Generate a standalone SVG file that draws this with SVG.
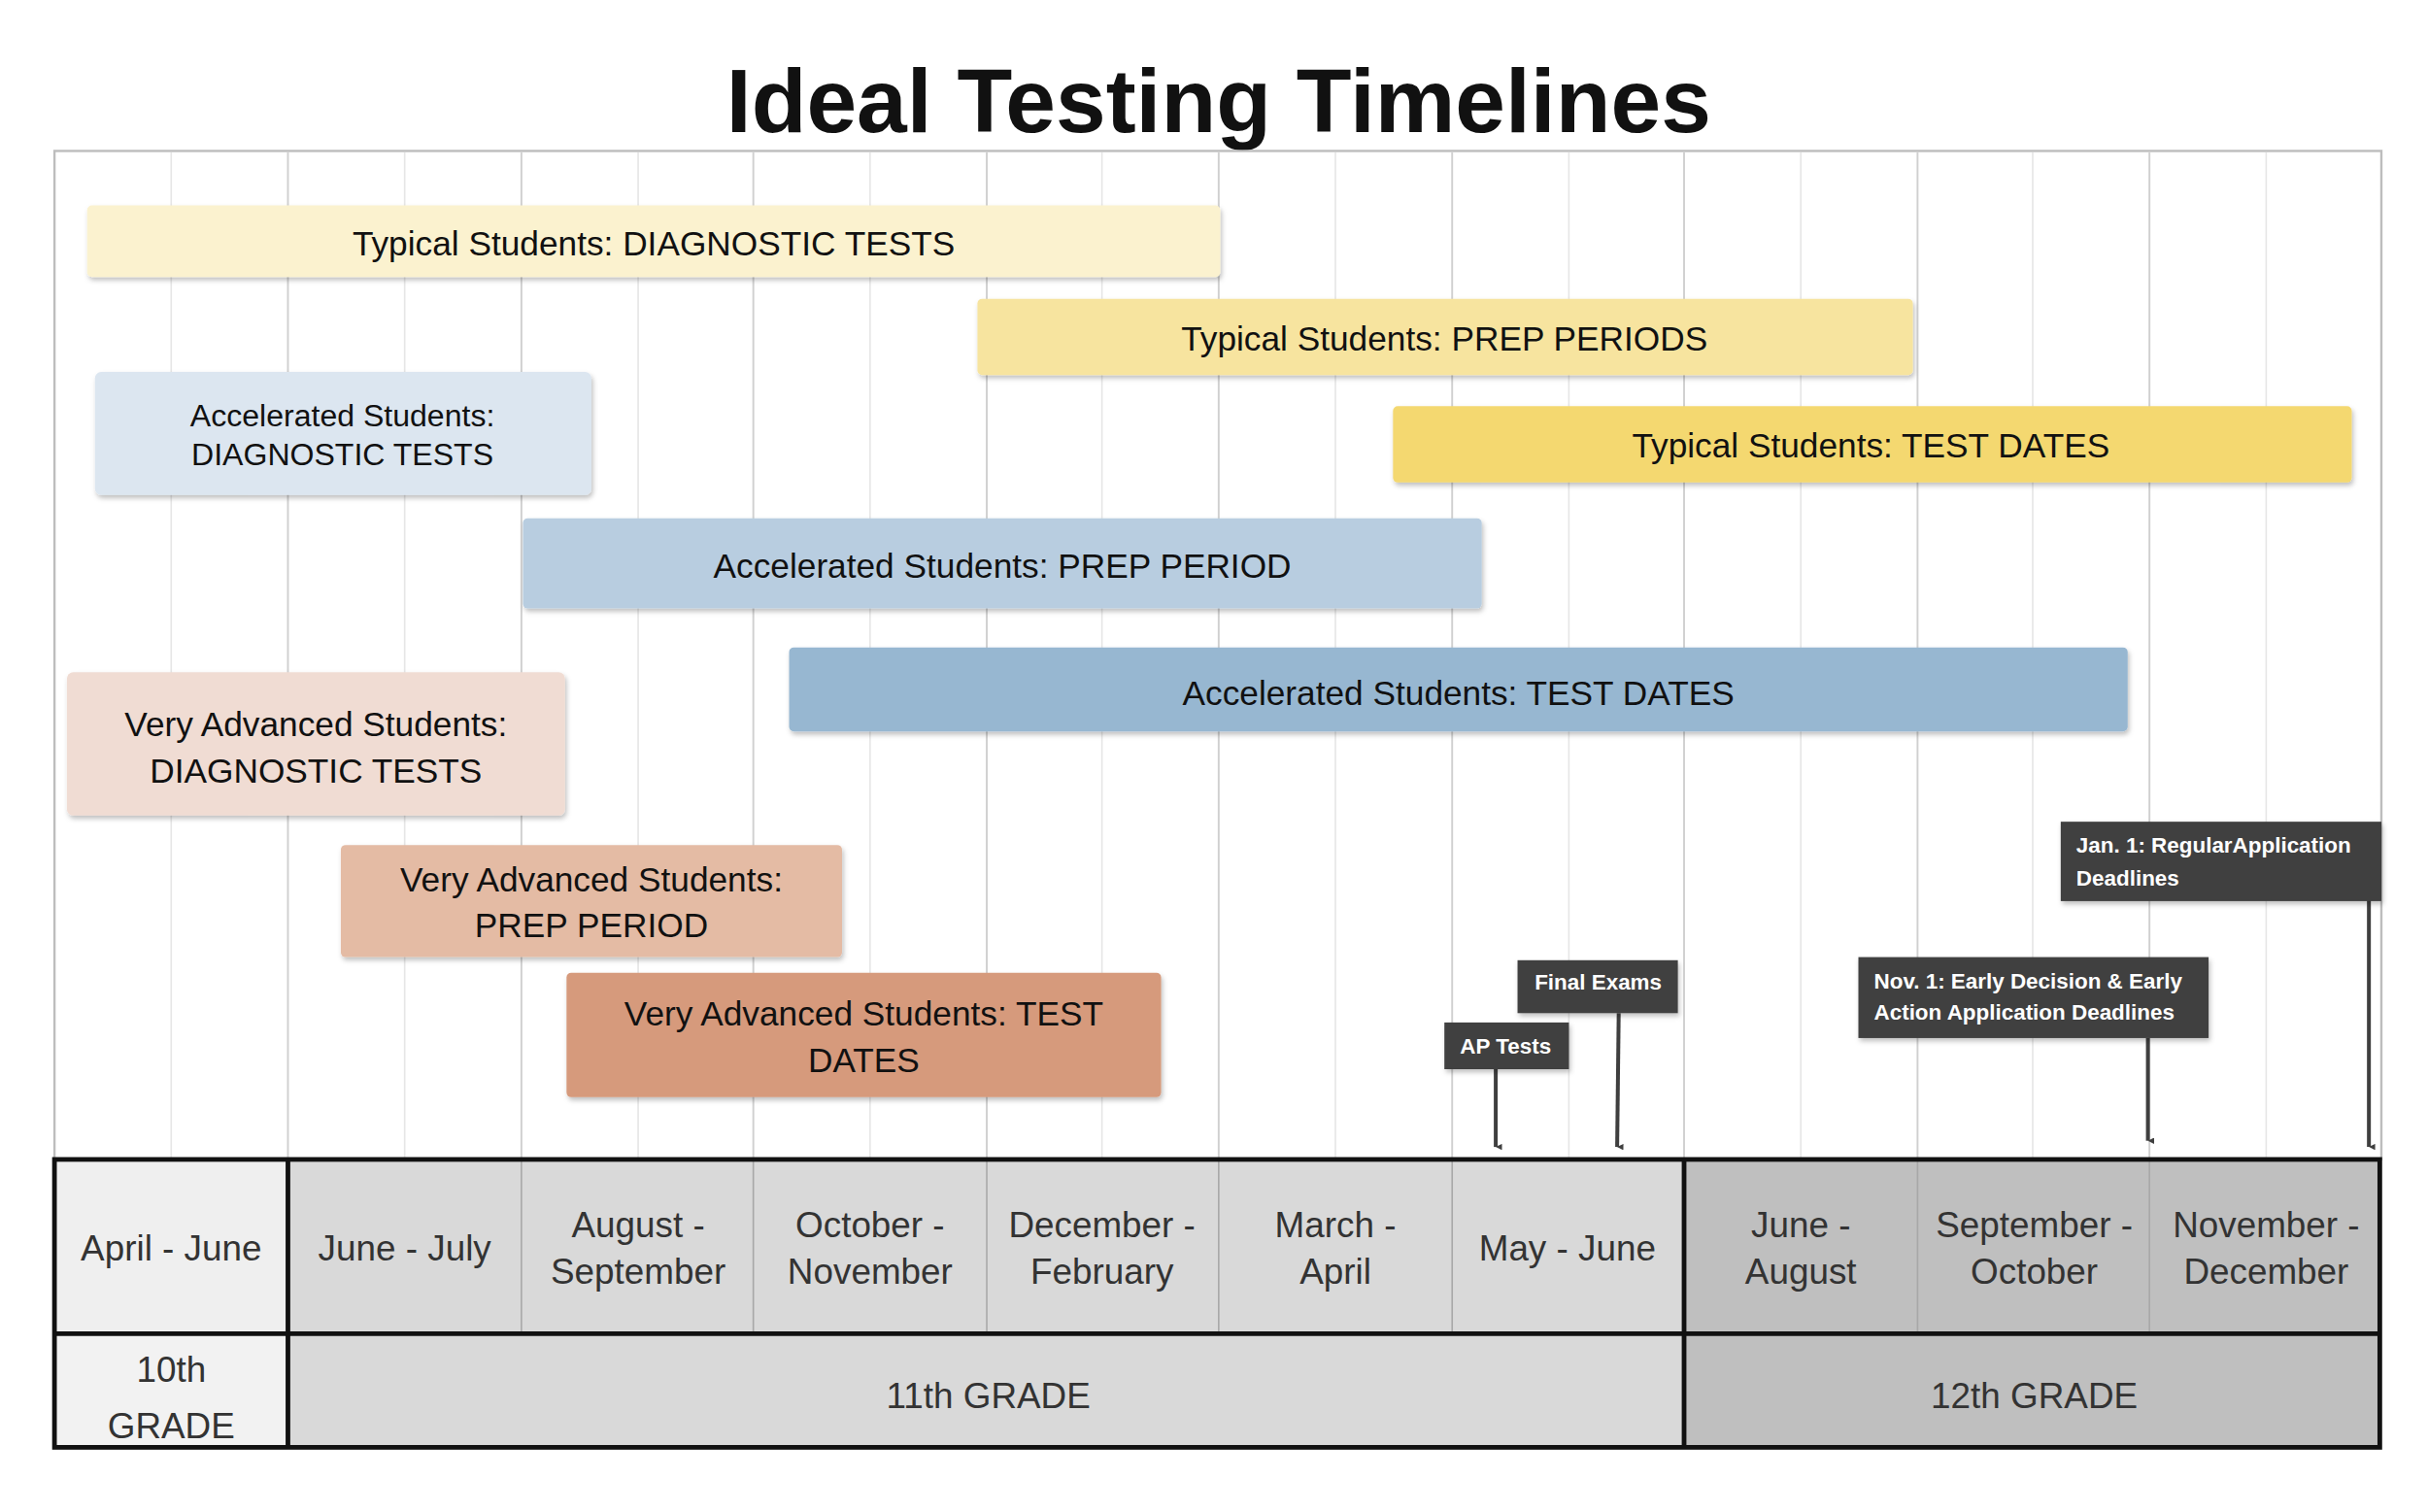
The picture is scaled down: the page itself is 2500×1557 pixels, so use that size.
<svg xmlns="http://www.w3.org/2000/svg" width="2500" height="1557" viewBox="0 0 2500 1557">
<style>
.t{font-family:"Liberation Sans Narrow","Liberation Sans",Arial,sans-serif;fill:#111;text-anchor:middle}
.bar{stroke:none;filter:url(#sh)}
.grid{stroke:#e6e6e6;stroke-width:1}
.gridm{stroke:#d0d0d0;stroke-width:1.2}
.mon{font-family:"Liberation Sans",Arial,sans-serif;font-size:23px;fill:#333;text-anchor:middle}
.call{fill:#3f3f3f}
.ct{font-family:"Liberation Sans Narrow","Liberation Sans",Arial,sans-serif;font-size:14px;fill:#fff;font-weight:bold}
.conn{stroke:#3f3f3f;stroke-width:2.5;marker-end:url(#ah)}
</style>
<defs>
<filter id="sh" x="-5%" y="-10%" width="110%" height="130%"><feDropShadow dx="1" dy="2" stdDeviation="1.5" flood-color="#000" flood-opacity="0.25"/></filter>
<marker id="ah" viewBox="0 0 10 10" refX="5" refY="10" markerWidth="4" markerHeight="5" orient="auto-start-reverse" markerUnits="userSpaceOnUse"><path d="M0,0 L10,0 L5,10 z" fill="#3f3f3f" transform="rotate(0)"/></marker>
</defs>
<rect width="2500" height="1557" fill="#fff"/>
<g transform="scale(1.6026)">
<text x="783" y="85" class="t" font-family="Liberation Sans,Arial,sans-serif" style="font-family:'Liberation Sans',Arial,sans-serif" font-size="58" font-weight="bold">Ideal Testing Timelines</text>
<g id="frame">
<rect x="35" y="97" width="1495" height="648" fill="#fff" stroke="#bdbdbd" stroke-width="1.5"/>
<path class="grid" d="M110,98V745M260,98V745M410,98V745M559,98V745M708,98V745M858,98V745M1008,98V745M1157,98V745M1306,98V745M1456,98V745"/>
<path class="gridm" d="M185,98V745M335,98V745M484,98V745M634,98V745M783,98V745M933,98V745M1082,98V745M1232,98V745M1381,98V745"/>
</g>
<g id="typ-diag"><rect class="bar" x="56" y="132" width="728" height="46" rx="3" fill="#FBF2CF"/><text class="t" x="420" y="164" font-size="22">Typical Students: DIAGNOSTIC TESTS</text></g>
<g id="typ-prep"><rect class="bar" x="628" y="192" width="601" height="49" rx="3" fill="#F7E49F"/><text class="t" x="928" y="225" font-size="22">Typical Students: PREP PERIODS</text></g>
<g id="acc-diag"><rect class="bar" x="61" y="239" width="319" height="79" rx="4" fill="#DCE6F0"/><text class="t" x="220" y="274" font-size="20">Accelerated Students:</text><text class="t" x="220" y="299" font-size="20">DIAGNOSTIC TESTS</text></g>
<g id="typ-test"><rect class="bar" x="895" y="261" width="616" height="49" rx="3" fill="#F4D870"/><text class="t" x="1202" y="294" font-size="22">Typical Students: TEST DATES</text></g>
<g id="acc-prep"><rect class="bar" x="336" y="333" width="616" height="58" rx="3" fill="#B8CDE0"/><text class="t" x="644" y="371" font-size="22">Accelerated Students: PREP PERIOD</text></g>
<g id="acc-test"><rect class="bar" x="507" y="416" width="860" height="54" rx="3" fill="#97B7D1"/><text class="t" x="937" y="453" font-size="22">Accelerated Students: TEST DATES</text></g>
<g id="va-diag"><rect class="bar" x="43" y="432" width="320" height="92" rx="4" fill="#F0DCD3"/><text class="t" x="203" y="473" font-size="22">Very Advanced Students:</text><text class="t" x="203" y="503" font-size="22">DIAGNOSTIC TESTS</text></g>
<g id="va-prep"><rect class="bar" x="219" y="543" width="322" height="72" rx="3" fill="#E4BBA4"/><text class="t" x="380" y="573" font-size="22">Very Advanced Students:</text><text class="t" x="380" y="602" font-size="22">PREP PERIOD</text></g>
<g id="va-test"><rect class="bar" x="364" y="625" width="382" height="80" rx="3" fill="#D69A7C"/><text class="t" x="555" y="659" font-size="22">Very Advanced Students:  TEST</text><text class="t" x="555" y="689" font-size="22">DATES</text></g>
<g id="connectors">
<line class="conn" x1="961" y1="687" x2="961" y2="737"/>
<line class="conn" x1="1040" y1="651" x2="1039" y2="737"/>
<line class="conn" x1="1380" y1="667" x2="1380" y2="733"/>
<line class="conn" x1="1522" y1="570" x2="1522" y2="737"/>
</g>
<g id="ap"><rect class="call" x="928" y="657" width="80" height="30" filter="url(#sh)"/><text class="ct" x="938" y="677">AP Tests</text></g>
<g id="final"><rect class="call" x="975" y="617" width="103" height="34" filter="url(#sh)"/><text class="ct" x="986" y="636">Final Exams</text></g>
<g id="nov"><rect class="call" x="1194" y="615" width="225" height="52" filter="url(#sh)"/><text class="ct" x="1204" y="635">Nov. 1: Early Decision &amp; Early</text><text class="ct" x="1204" y="655">Action Application Deadlines</text></g>
<g id="jan"><rect class="call" x="1324" y="528" width="206" height="51" filter="url(#sh)"/><text class="ct" x="1334" y="548">Jan. 1: RegularApplication</text><text class="ct" x="1334" y="569">Deadlines</text></g>
<g id="table">
<rect x="35" y="745" width="150" height="112" fill="#EFEFEF"/>
<rect x="185" y="745" width="897" height="112" fill="#D9D9D9"/>
<rect x="1082" y="745" width="447" height="112" fill="#BFBFBF"/>
<rect x="35" y="857" width="150" height="73" fill="#F2F2F2"/>
<rect x="185" y="857" width="897" height="73" fill="#D9D9D9"/>
<rect x="1082" y="857" width="447" height="73" fill="#BFBFBF"/>
<path d="M335,745V857M484,745V857M634,745V857M783,745V857M933,745V857M1232,745V857M1381,745V857" stroke="#a8a8a8" stroke-width="1"/>
<path d="M185,745V930M1082,745V930M35,857H1529" stroke="#111" stroke-width="3" fill="none"/>
<rect x="35" y="745" width="1494" height="185" fill="none" stroke="#111" stroke-width="3"/>
<text class="mon" x="110" y="810">April - June</text>
<text class="mon" x="260" y="810">June - July</text>
<text class="mon" x="410" y="795">August -</text><text class="mon" x="410" y="825">September</text>
<text class="mon" x="559" y="795">October -</text><text class="mon" x="559" y="825">November</text>
<text class="mon" x="708" y="795">December -</text><text class="mon" x="708" y="825">February</text>
<text class="mon" x="858" y="795">March -</text><text class="mon" x="858" y="825">April</text>
<text class="mon" x="1007" y="810">May - June</text>
<text class="mon" x="1157" y="795">June -</text><text class="mon" x="1157" y="825">August</text>
<text class="mon" x="1307" y="795">September -</text><text class="mon" x="1307" y="825">October</text>
<text class="mon" x="1456" y="795">November -</text><text class="mon" x="1456" y="825">December</text>
<text class="mon" x="110" y="888" font-size="27" fill="#111">10th</text><text class="mon" x="110" y="924" font-size="27" fill="#111">GRADE</text>
<text class="mon" x="635" y="905" font-size="28" fill="#111">11th GRADE</text>
<text class="mon" x="1307" y="905" font-size="28" fill="#111">12th GRADE</text>
</g>
</g>
</svg>
